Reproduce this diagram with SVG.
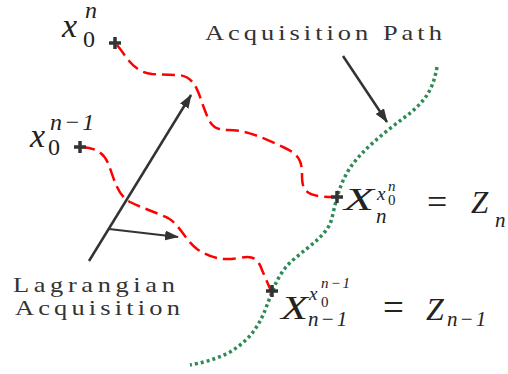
<svg xmlns="http://www.w3.org/2000/svg" width="508" height="374" viewBox="0 0 508 374">
<rect width="508" height="374" fill="#fff"/>
<defs>
<marker id="ah" markerUnits="userSpaceOnUse" markerWidth="14" markerHeight="10" refX="13" refY="5" orient="auto">
<path d="M0,0 L14,5 L0,10 z" fill="#333"/>
</marker>
</defs>
<g id="connectors" fill="none">
<path stroke="#2e8b57" stroke-width="3.5" stroke-dasharray="3,3" d="M437,67 C433,90 425,102 405,117 C385,132 362,150 350,168 C340,183 336,200 332,218 C328,235 310,245 293,260 C278,273 273,290 267,305 C260,325 250,340 230,352 C215,360 200,363 190,365"/>
<path stroke="#ff0000" stroke-width="2.5" stroke-dasharray="13,6" d="M117,45 C127,57 133,72 152,74 L178,75 C195,76 198,92 204,108 C210,124 212,130 228,130 C245,130 260,136 285,148 C300,155 302,162 302,175 C302,190 305,197 333,197"/>
<path stroke="#ff0000" stroke-width="2.5" stroke-dasharray="13,6" d="M82,147 C95,148 103,152 108,163 C114,178 117,195 130,202 C142,208 155,212 168,218 C180,225 185,240 197,249 C210,258 222,261 240,258 C252,255 258,258 262,270 L271,291"/>
<line stroke="#333" stroke-width="2.5" x1="89" y1="261" x2="191" y2="95" marker-end="url(#ah)"/>
<line stroke="#333" stroke-width="1.8" x1="109" y1="229" x2="178" y2="237" marker-end="url(#ah)"/>
<line stroke="#333" stroke-width="2.5" x1="343" y1="56" x2="387" y2="122" marker-end="url(#ah)"/>
</g>
<g id="start-n">
<path stroke="#333" stroke-width="3.5" d="M109,43 H121 M115,37 V49"/>
<text font-family="Liberation Serif" font-style="italic" fill="#222" x="62" y="37" font-size="34">x</text>
<text font-family="Liberation Serif" font-style="italic" fill="#222" x="85" y="18" font-size="24">n</text>
<text font-family="Liberation Serif" fill="#222" x="83" y="47" font-size="24">0</text>
</g>
<g id="start-n-1">
<path stroke="#333" stroke-width="3.5" d="M74,147 H86 M80,141 V153"/>
<text font-family="Liberation Serif" font-style="italic" fill="#222" x="30" y="147" font-size="34">x</text>
<text font-family="Liberation Serif" font-style="italic" fill="#222" x="50" y="130" font-size="24" letter-spacing="2">n−1</text>
<text font-family="Liberation Serif" fill="#222" x="48" y="155" font-size="24">0</text>
</g>
<g id="end-n">
<path stroke="#333" stroke-width="3.5" d="M331,197 H343 M337,191 V203"/>
<text font-family="Liberation Serif" font-style="italic" fill="#222" x="344" y="210" font-size="31" textLength="30" lengthAdjust="spacingAndGlyphs">X</text>
<text font-family="Liberation Serif" font-style="italic" fill="#222" x="376" y="223" font-size="21">n</text>
<text font-family="Liberation Serif" font-style="italic" fill="#222" x="377" y="200" font-size="19">x</text>
<text font-family="Liberation Serif" font-style="italic" fill="#222" x="388" y="191" font-size="15">n</text>
<text font-family="Liberation Serif" fill="#222" x="388" y="205" font-size="15">0</text>
<text font-family="Liberation Serif" fill="#222" x="427" y="214" font-size="36">=</text>
<text font-family="Liberation Serif" font-style="italic" fill="#222" x="471" y="213" font-size="31">Z</text>
<text font-family="Liberation Serif" font-style="italic" fill="#222" x="495" y="227" font-size="21">n</text>
</g>
<g id="end-n-1">
<path stroke="#333" stroke-width="3.5" d="M266,291 H278 M272,285 V297"/>
<text font-family="Liberation Serif" font-style="italic" fill="#222" x="281" y="319" font-size="33" textLength="27" lengthAdjust="spacingAndGlyphs">X</text>
<text font-family="Liberation Serif" font-style="italic" fill="#222" x="308" y="326" font-size="21" letter-spacing="2">n−1</text>
<text font-family="Liberation Serif" font-style="italic" fill="#222" x="309" y="300" font-size="19">x</text>
<text font-family="Liberation Serif" fill="#222" x="321" y="307" font-size="15">0</text>
<text font-family="Liberation Serif" font-style="italic" fill="#222" x="321" y="288" font-size="15" letter-spacing="2">n−1</text>
<text font-family="Liberation Serif" fill="#222" x="383" y="320" font-size="37">=</text>
<text font-family="Liberation Serif" font-style="italic" fill="#222" x="426" y="320" font-size="32">Z</text>
<text font-family="Liberation Serif" font-style="italic" fill="#222" x="447" y="326" font-size="21" letter-spacing="2">n−1</text>
</g>
<g id="label-acq-path" transform="scale(1.2,1)">
<text font-family="Liberation Serif" fill="#333" font-size="22" x="170.8" y="40" letter-spacing="3.35">Acquisition Path</text>
</g>
<g id="label-lagrangian" transform="scale(1.2,1)">
<text font-family="Liberation Serif" fill="#333" font-size="22" x="10.8" y="292" letter-spacing="3.87">Lagrangian</text>
<text font-family="Liberation Serif" fill="#333" font-size="22" x="12.5" y="315" letter-spacing="3.48">Acquisition</text>
</g>
</svg>
